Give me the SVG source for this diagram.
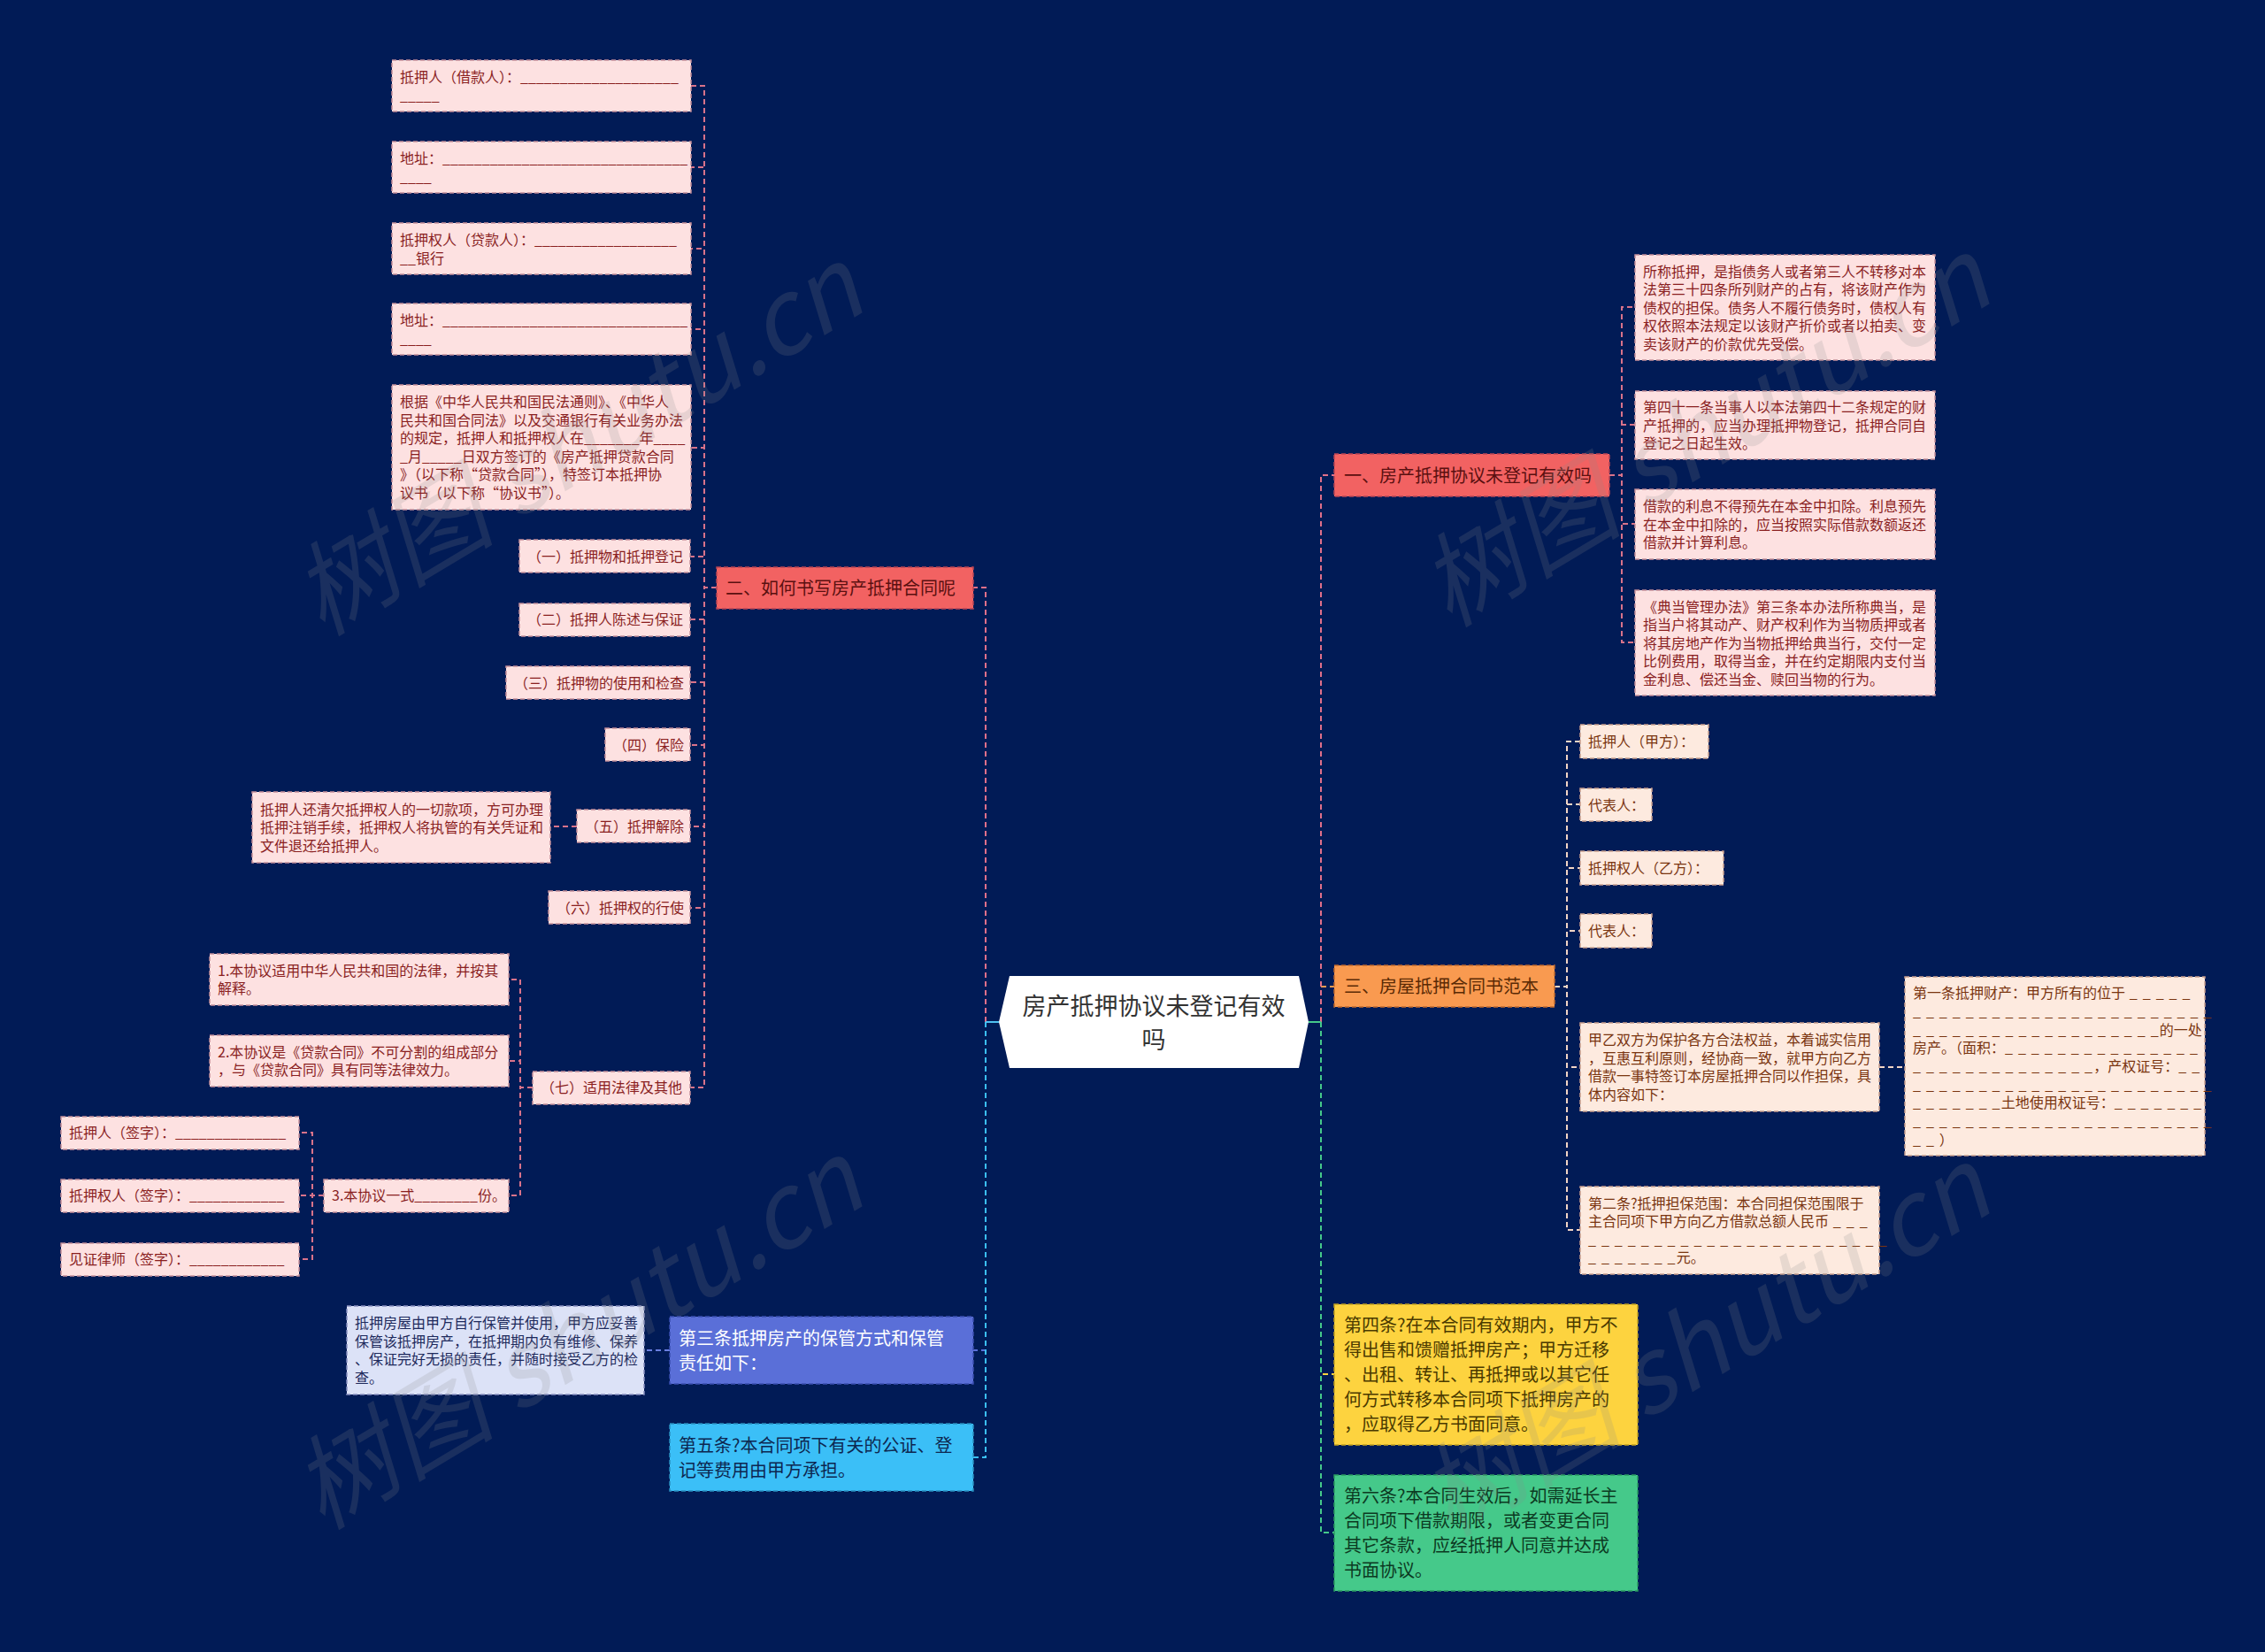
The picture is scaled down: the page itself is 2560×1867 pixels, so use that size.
<svg xmlns="http://www.w3.org/2000/svg" width="2560" height="1867" viewBox="0 0 2560 1867">
<style>
text{font-family:"Noto Sans CJK SC","Noto Sans",sans-serif;}
.f16{font-size:16px}
.f20{font-size:20px}
.d{letter-spacing:1.2px}
.e{fill:none;stroke-width:2;stroke-dasharray:6 4}
.pk rect{fill:#fde1e1;stroke:#c5909b;stroke-width:1.5;stroke-dasharray:5 3}
.pk text{fill:#8a1f1f}
.rd rect{fill:#f26262;stroke:#b84555;stroke-width:1.5;stroke-dasharray:5 3}
.rd text{fill:#5a1010}
.or rect{fill:#f99a50;stroke:#c0692e;stroke-width:1.5;stroke-dasharray:5 3}
.or text{fill:#5a2a05}
.pe rect{fill:#fdeadf;stroke:#c9a08e;stroke-width:1.5;stroke-dasharray:5 3}
.pe text{fill:#7a3510}
.bl rect{fill:#5a6fd8;stroke:#3a4fb0;stroke-width:1.5;stroke-dasharray:5 3}
.bl text{fill:#ffffff}
.lv rect{fill:#dce2f7;stroke:#8890c0;stroke-width:1.5;stroke-dasharray:5 3}
.lv text{fill:#1e2a5c}
.cy rect{fill:#3bbff7;stroke:#2a90c0;stroke-width:1.5;stroke-dasharray:5 3}
.cy text{fill:#0d2750}
.ye rect{fill:#fdd33f;stroke:#c0a020;stroke-width:1.5;stroke-dasharray:5 3}
.ye text{fill:#4a3a00}
.gr rect{fill:#45c98a;stroke:#2a9a60;stroke-width:1.5;stroke-dasharray:5 3}
.gr text{fill:#0c3a22}
.wm{font-size:115px;fill:#8a8a8a;opacity:0.18;font-style:italic}
</style>
<rect x="0" y="0" width="2560" height="1867" fill="#011b56"/>

<g id="connectors">
  <path class="e" stroke="#5a70d8" d="M1114,1155 V1526 H1100"/>
  <path class="e" stroke="#3bbff7" d="M1114,1155 V1647 H1100"/>
  <path class="e" stroke="#e0708a" d="M1114,1155 V664 H1100"/>
  <line x1="1114" y1="1155" x2="1129" y2="1155" stroke="#4fc0f0" stroke-width="2"/>
  <path class="e" stroke="#f99a50" d="M1493,1155 V1115 H1508"/>
  <path class="e" stroke="#e0708a" d="M1493,1155 V537 H1508"/>
  <path class="e" stroke="#fdd33f" d="M1493,1155 V1553 H1508"/>
  <path class="e" stroke="#45c98a" d="M1493,1155 V1732 H1508"/>
  <line x1="1479" y1="1155" x2="1493" y2="1155" stroke="#45c98a" stroke-width="2"/>
  <g stroke="#d9738a">
    <path class="e" d="M810,664 H796 V97 H781"/>
    <path class="e" d="M810,664 H796 V189 H781"/>
    <path class="e" d="M810,664 H796 V281 H781"/>
    <path class="e" d="M810,664 H796 V372 H781"/>
    <path class="e" d="M810,664 H796 V506 H781"/>
    <path class="e" d="M810,664 H796 V629 H781"/>
    <path class="e" d="M810,664 H796 V700 H781"/>
    <path class="e" d="M810,664 H796 V771 H781"/>
    <path class="e" d="M810,664 H796 V842 H781"/>
    <path class="e" d="M810,664 H796 V934 H781"/>
    <path class="e" d="M810,664 H796 V1026 H781"/>
    <path class="e" d="M810,664 H796 V1229 H781"/>
    <path class="e" d="M652,934 H622"/>
    <path class="e" d="M602,1229 H588 V1107 H575"/>
    <path class="e" d="M602,1229 H588 V1199 H575"/>
    <path class="e" d="M602,1229 H588 V1351 H575"/>
    <path class="e" d="M366,1351 H353 V1280 H338"/>
    <path class="e" d="M366,1351 H353 V1351 H338"/>
    <path class="e" d="M366,1351 H353 V1423 H338"/>
    <path class="e" d="M1819,537 H1833 V347 H1848"/>
    <path class="e" d="M1819,537 H1833 V480 H1848"/>
    <path class="e" d="M1819,537 H1833 V592 H1848"/>
    <path class="e" d="M1819,537 H1833 V726 H1848"/>
  </g>
  <path class="e" stroke="#6a80e0" d="M757,1526 H728"/>
  <g stroke="#f2d5c5">
    <path class="e" d="M1757,1115 H1771 V838 H1786"/>
    <path class="e" d="M1757,1115 H1771 V909 H1786"/>
    <path class="e" d="M1757,1115 H1771 V981 H1786"/>
    <path class="e" d="M1757,1115 H1771 V1052 H1786"/>
    <path class="e" d="M1757,1115 H1771 V1206 H1786"/>
    <path class="e" d="M1757,1115 H1771 V1390 H1786"/>
    <path class="e" d="M2124,1206 H2153"/>
  </g>
</g>

<g id="root">
  <polygon points="1129,1155 1141,1103 1468,1103 1479,1155 1468,1207 1141,1207" fill="#ffffff"/>
  <text x="1304" y="1147" font-size="27" fill="#333333" text-anchor="middle">房产抵押协议未登记有效</text>
  <text x="1304" y="1185" font-size="27" fill="#333333" text-anchor="middle">吗</text>
</g>

<g id="b1" class="rd f20"><rect x="1508" y="513" width="311" height="48"/><text x="1519" y="545">一、房产抵押协议未登记有效吗</text></g>
<g id="b2" class="rd f20"><rect x="810" y="641" width="290" height="47"/><text x="820" y="672">二、如何书写房产抵押合同呢</text></g>
<g id="b3" class="or f20"><rect x="1508" y="1091" width="249" height="47"/><text x="1519" y="1122">三、房屋抵押合同书范本</text></g>
<g id="b4" class="bl f20"><rect x="757" y="1488" width="343" height="76"/><text x="767" y="1520">第三条抵押房产的保管方式和保管</text><text x="767" y="1548">责任如下：</text></g>
<g id="b5" class="cy f20"><rect x="757" y="1609" width="343" height="76"/><text x="767" y="1641">第五条?本合同项下有关的公证、登</text><text x="767" y="1669">记等费用由甲方承担。</text></g>
<g id="b6" class="ye f20"><rect x="1508" y="1474" width="343" height="159"/>
  <text x="1519" y="1505">第四条?在本合同有效期内，甲方不</text>
  <text x="1519" y="1533">得出售和馈赠抵押房产；甲方迁移</text>
  <text x="1519" y="1561">、出租、转让、再抵押或以其它任</text>
  <text x="1519" y="1589">何方式转移本合同项下抵押房产的</text>
  <text x="1519" y="1617">，应取得乙方书面同意。</text></g>
<g id="b7" class="gr f20"><rect x="1508" y="1667" width="343" height="131"/>
  <text x="1519" y="1698">第六条?本合同生效后，如需延长主</text>
  <text x="1519" y="1726">合同项下借款期限，或者变更合同</text>
  <text x="1519" y="1754">其它条款，应经抵押人同意并达成</text>
  <text x="1519" y="1782">书面协议。</text></g>

<g id="n1" class="pk f16"><rect x="443" y="68" width="338" height="58"/><text x="452" y="93">抵押人（借款人）：____________________</text><text x="452" y="114">_____</text></g>
<g id="n2" class="pk f16"><rect x="443" y="160" width="338" height="58"/><text x="452" y="185">地址：_______________________________</text><text x="452" y="206">____</text></g>
<g id="n3" class="pk f16"><rect x="443" y="252" width="338" height="58"/><text x="452" y="277">抵押权人（贷款人）：__________________</text><text x="452" y="298">__银行</text></g>
<g id="n4" class="pk f16"><rect x="443" y="343" width="338" height="58"/><text x="452" y="368">地址：_______________________________</text><text x="452" y="389">____</text></g>
<g id="n5" class="pk f16"><rect x="443" y="435" width="338" height="141"/>
  <text x="452" y="460">根据《中华人民共和国民法通则》、《中华人</text>
  <text x="452" y="481">民共和国合同法》以及交通银行有关业务办法</text>
  <text x="452" y="501">的规定，抵押人和抵押权人在_______年____</text>
  <text x="452" y="522">_月_____日双方签订的《房产抵押贷款合同</text>
  <text x="452" y="542">》（以下称“贷款合同”），特签订本抵押协</text>
  <text x="452" y="563">议书（以下称“协议书”）。</text></g>
<g id="n6" class="pk f16"><rect x="587" y="610" width="193" height="37"/><text x="596" y="635">（一）抵押物和抵押登记</text></g>
<g id="n7" class="pk f16"><rect x="587" y="682" width="193" height="37"/><text x="596" y="706">（二）抵押人陈述与保证</text></g>
<g id="n8" class="pk f16"><rect x="572" y="753" width="208" height="37"/><text x="581" y="778">（三）抵押物的使用和检查</text></g>
<g id="n9" class="pk f16"><rect x="684" y="823" width="96" height="37"/><text x="693" y="848">（四）保险</text></g>
<g id="n10" class="pk f16"><rect x="652" y="915" width="128" height="37"/><text x="661" y="940">（五）抵押解除</text></g>
<g id="n11" class="pk f16"><rect x="285" y="895" width="337" height="80"/>
  <text x="294" y="921">抵押人还清欠抵押权人的一切款项，方可办理</text>
  <text x="294" y="941">抵押注销手续，抵押权人将执管的有关凭证和</text>
  <text x="294" y="962">文件退还给抵押人。</text></g>
<g id="n12" class="pk f16"><rect x="620" y="1007" width="160" height="37"/><text x="629" y="1032">（六）抵押权的行使</text></g>
<g id="n13" class="pk f16"><rect x="602" y="1211" width="178" height="37"/><text x="611" y="1235">（七）适用法律及其他</text></g>
<g id="n14" class="pk f16"><rect x="237" y="1078" width="338" height="58"/><text x="246" y="1103">1.本协议适用中华人民共和国的法律，并按其</text><text x="246" y="1123">解释。</text></g>
<g id="n15" class="pk f16"><rect x="237" y="1170" width="338" height="58"/><text x="246" y="1195">2.本协议是《贷款合同》不可分割的组成部分</text><text x="246" y="1215">，与《贷款合同》具有同等法律效力。</text></g>
<g id="n16" class="pk f16"><rect x="366" y="1333" width="209" height="37"/><text x="375" y="1357">3.本协议一式________份。</text></g>
<g id="n17" class="pk f16"><rect x="69" y="1262" width="269" height="37"/><text x="78" y="1286">抵押人（签字）：______________</text></g>
<g id="n18" class="pk f16"><rect x="69" y="1333" width="269" height="37"/><text x="78" y="1357">抵押权人（签字）：____________</text></g>
<g id="n19" class="pk f16"><rect x="69" y="1405" width="269" height="37"/><text x="78" y="1429">见证律师（签字）：____________</text></g>
<g id="n20" class="lv f16"><rect x="392" y="1476" width="336" height="100"/>
  <text x="401" y="1501">抵押房屋由甲方自行保管并使用，甲方应妥善</text>
  <text x="401" y="1522">保管该抵押房产，在抵押期内负有维修、保养</text>
  <text x="401" y="1542">、保证完好无损的责任，并随时接受乙方的检</text>
  <text x="401" y="1563">查。</text></g>

<g id="n21" class="pk f16"><rect x="1848" y="288" width="339" height="119"/>
  <text x="1857" y="313">所称抵押，是指债务人或者第三人不转移对本</text>
  <text x="1857" y="333">法第三十四条所列财产的占有，将该财产作为</text>
  <text x="1857" y="354">债权的担保。债务人不履行债务时，债权人有</text>
  <text x="1857" y="374">权依照本法规定以该财产折价或者以拍卖、变</text>
  <text x="1857" y="395">卖该财产的价款优先受偿。</text></g>
<g id="n22" class="pk f16"><rect x="1848" y="442" width="339" height="77"/>
  <text x="1857" y="466">第四十一条当事人以本法第四十二条规定的财</text>
  <text x="1857" y="487">产抵押的，应当办理抵押物登记，抵押合同自</text>
  <text x="1857" y="507">登记之日起生效。</text></g>
<g id="n23" class="pk f16"><rect x="1848" y="553" width="339" height="79"/>
  <text x="1857" y="578">借款的利息不得预先在本金中扣除。利息预先</text>
  <text x="1857" y="599">在本金中扣除的，应当按照实际借款数额返还</text>
  <text x="1857" y="619">借款并计算利息。</text></g>
<g id="n24" class="pk f16"><rect x="1848" y="667" width="339" height="119"/>
  <text x="1857" y="692">《典当管理办法》第三条本办法所称典当，是</text>
  <text x="1857" y="712">指当户将其动产、财产权利作为当物质押或者</text>
  <text x="1857" y="733">将其房地产作为当物抵押给典当行，交付一定</text>
  <text x="1857" y="753">比例费用，取得当金，并在约定期限内支付当</text>
  <text x="1857" y="774">金利息、偿还当金、赎回当物的行为。</text></g>

<g id="n25" class="pe f16"><rect x="1786" y="819" width="145" height="38"/><text x="1795" y="844">抵押人（甲方）：</text></g>
<g id="n26" class="pe f16"><rect x="1786" y="891" width="81" height="37"/><text x="1795" y="916">代表人：</text></g>
<g id="n27" class="pe f16"><rect x="1786" y="962" width="162" height="38"/><text x="1795" y="987">抵押权人（乙方）：</text></g>
<g id="n28" class="pe f16"><rect x="1786" y="1033" width="81" height="38"/><text x="1795" y="1058">代表人：</text></g>
<g id="n29" class="pe f16"><rect x="1786" y="1156" width="338" height="100"/>
  <text x="1795" y="1181">甲乙双方为保护各方合法权益，本着诚实信用</text>
  <text x="1795" y="1202">，互惠互利原则，经协商一致，就甲方向乙方</text>
  <text x="1795" y="1222">借款一事特签订本房屋抵押合同以作担保，具</text>
  <text x="1795" y="1243">体内容如下：</text></g>
<g id="n30" class="pe f16"><rect x="2153" y="1104" width="339" height="202"/>
  <text x="2162" y="1128">第一条抵押财产：甲方所有的位于<tspan class="d"> _ _ _ _ _</tspan></text>
  <text x="2162" y="1149" class="d">_ _ _ _ _ _ _ _ _ _ _ _ _ _ _ _ _ _ _ _ _ _ _</text>
  <text x="2162" y="1170"><tspan class="d">_ _ _ _ _ _ _ _ _ _ _ _ _ _ _ _ _ _ _</tspan>的一处</text>
  <text x="2162" y="1190">房产。（面积：<tspan class="d">_ _ _ _ _ _ _ _ _ _ _ _ _ _ _</tspan></text>
  <text x="2162" y="1211"><tspan class="d">_ _ _ _ _ _ _ _ _ _ _ _ _ _</tspan>，产权证号：<tspan class="d">_ _</tspan></text>
  <text x="2162" y="1232" class="d">_ _ _ _ _ _ _ _ _ _ _ _ _ _ _ _ _ _ _ _ _ _ _</text>
  <text x="2162" y="1252"><tspan class="d">_ _ _ _ _ _ _</tspan>土地使用权证号：<tspan class="d">_ _ _ _ _ _ _</tspan></text>
  <text x="2162" y="1273" class="d">_ _ _ _ _ _ _ _ _ _ _ _ _ _ _ _ _ _ _ _ _ _ _</text>
  <text x="2162" y="1294"><tspan class="d">_ _ </tspan>）</text></g>
<g id="n31" class="pe f16"><rect x="1786" y="1341" width="338" height="99"/>
  <text x="1795" y="1366">第二条?抵押担保范围：本合同担保范围限于</text>
  <text x="1795" y="1386">主合同项下甲方向乙方借款总额人民币<tspan class="d"> _ _ _</tspan></text>
  <text x="1795" y="1407" class="d">_ _ _ _ _ _ _ _ _ _ _ _ _ _ _ _ _ _ _ _ _ _ _</text>
  <text x="1795" y="1427"><tspan class="d">_ _ _ _ _ _ _</tspan>元。</text></g>

<g id="watermarks">
  <text class="wm" x="653" y="540" text-anchor="middle" transform="rotate(-31 653 500)">树图 shutu.cn</text>
  <text class="wm" x="1927" y="530" text-anchor="middle" transform="rotate(-31 1927 490)">树图 shutu.cn</text>
  <text class="wm" x="653" y="1550" text-anchor="middle" transform="rotate(-31 653 1510)">树图 shutu.cn</text>
  <text class="wm" x="1927" y="1558" text-anchor="middle" transform="rotate(-31 1927 1518)">树图 shutu.cn</text>
</g>
</svg>
